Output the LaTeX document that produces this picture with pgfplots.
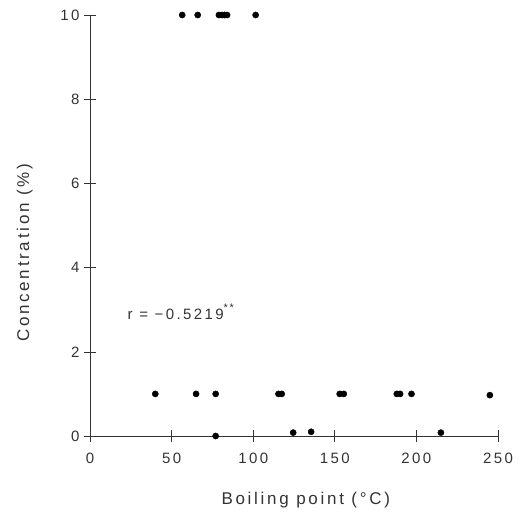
\documentclass[border=0pt]{standalone}
\usepackage{fontspec}
\setmainfont[LetterSpace=16]{Liberation Sans}
\usepackage{pgfplots}
\pgfplotsset{compat=1.18}

\definecolor{ink}{gray}{0.2}

\begin{document}
\begin{tikzpicture}
\begin{axis}[
    scale only axis,
    width=408pt, height=421pt,
    xmin=0, xmax=250, ymin=0, ymax=10,
    axis lines=left,
    axis line style={-, ink},
    x axis line style={line width=1pt},
    y axis line style={line width=0.6pt},
    xtick={0,50,...,250},
    ytick={0,2,...,10},
    tick align=center,
    major tick length=12pt,
    tick style={ink, line width=0.6pt},
    /pgf/number format/assume math mode=true,
    ticklabel style={font=\fontsize{15}{17}\selectfont, text=ink},
    xticklabel style={yshift=-7pt},
    yticklabel style={xshift=-1pt},
    xlabel={Boiling point (\,°C)},
    ylabel={Concentration (\%)},
    label style={font=\fontsize{17}{20}\selectfont, text=ink},
    xlabel style={at={(rel axis cs:0.529,-0.152)}, anchor=center},
    ylabel style={at={(rel axis cs:-0.160,0.435)}, anchor=center},
    clip=false,
]
\addplot[only marks, mark=*, mark size=3.1pt, black] coordinates {
    (56.5,10)(66,10)(79,10)(81,10)(82.5,10)(84,10)(101.5,10)
    (40,1)(65,1)(77,1)(115.5,1)(117.5,1)(153,1)(155.5,1)
    (188,1)(190,1)(197,1)(245,0.97)
    (77,0)(124.5,0.08)(135.5,0.1)(215,0.08)
};
\node[anchor=west, font=\fontsize{15}{17}\selectfont, text=ink, inner sep=0pt]
    at (axis cs:23,2.95) {r = −0.5219\raisebox{0.9ex}{\fontsize{11}{11}\selectfont **}};
\end{axis}
\pgfresetboundingbox
\path ([xshift=-90pt,yshift=-84pt]current axis.south west)
    rectangle ([xshift=27pt,yshift=15pt]current axis.north east);
\end{tikzpicture}
\end{document}
